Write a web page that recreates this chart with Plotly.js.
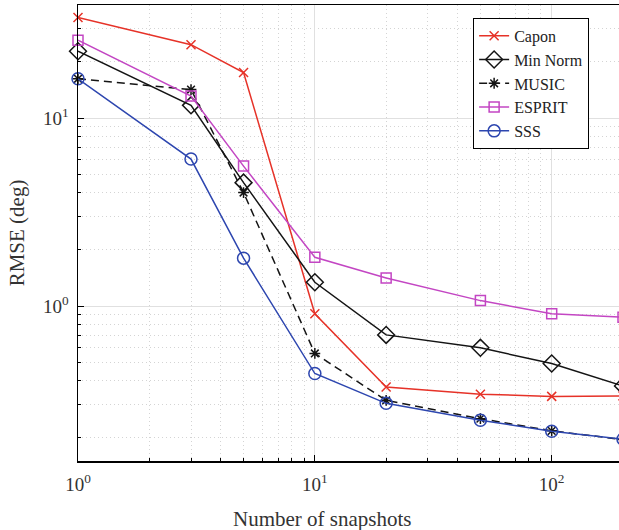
<!DOCTYPE html>
<html>
<head>
<meta charset="utf-8">
<script src="https://cdn.plot.ly/plotly-3.0.1.min.js"></script>
<style>
html, body { margin: 0; padding: 0; overflow: hidden; background: #fff; }
#chart { width: 626px; height: 530px; }
</style>
</head>
<body>
<div id="chart"></div>
<script>
const snapshots = [1, 3, 5, 10, 20, 50, 100, 200];
const capon   = [34.3, 24.6, 17.5, 0.91, 0.371, 0.340, 0.331, 0.333];
const minNorm = [22.7, 11.7, 4.54, 1.34, 0.703, 0.600, 0.495, 0.376];
const music   = [16.2, 14.2, 4.02, 0.560, 0.315, 0.252, 0.217, 0.195];
const esprit  = [26.0, 13.1, 5.56, 1.82, 1.41, 1.07, 0.912, 0.872];
const sss     = [16.2, 6.06, 1.80, 0.438, 0.304, 0.247, 0.216, 0.196];

const xTickVals = [1, 10, 100];
const xTickText = ['10<sup>0</sup>', '10<sup>1</sup>', '10<sup>2</sup>'];
const yTickVals = [1, 10];
const yTickText = ['10<sup>0</sup>', '10<sup>1</sup>'];

const font = 'Liberation Serif';

function tr(name, y, color, symbol, size, dash, lw) {
  return {
    x: snapshots, y: y, name: name, type: 'scatter', mode: 'lines+markers',
    line: {color: color, width: lw || 1.5, dash: dash || 'solid'},
    marker: {symbol: symbol, size: size, color: color, line: {color: color, width: 1.5}},
    cliponaxis: false
  };
}

const data = [
  tr('Capon', capon, 'rgb(230,50,40)', 'x-thin-open', 9),
  tr('Min Norm', minNorm, 'rgb(20,20,20)', 'diamond-open', 13),
  tr('MUSIC', music, 'rgb(20,20,20)', 'asterisk-open', 9, '8px,5px'),
  tr('ESPRIT', esprit, 'rgb(195,70,195)', 'square-open', 10),
  tr('SSS', sss, 'rgb(45,70,175)', 'circle-open', 12)
];

const axisCommon = {
  type: 'log',
  showline: true, linecolor: '#000', linewidth: 1.5, mirror: true,
  ticks: 'inside', ticklen: 6, tickcolor: '#000', tickwidth: 1,
  showgrid: true, gridcolor: '#e0e0e0', gridwidth: 1,
  zeroline: false,
  tickfont: {family: font, size: 19, color: '#333'},
  minor: {dtick: 'D1', ticks: 'inside', ticklen: 3, tickcolor: '#000', showgrid: true, gridcolor: '#d4d4d4', griddash: '1px,3px', gridwidth: 1}
};

const layout = {
  width: 626, height: 530,
  margin: {l: 78, r: 3, t: 5, b: 69},
  paper_bgcolor: '#fff', plot_bgcolor: '#fff',
  font: {family: font, color: '#333'},
  showlegend: true,
  legend: {
    x: 0.725, y: 0.972, xanchor: 'left', yanchor: 'top',
    bgcolor: '#fff', bordercolor: '#000', borderwidth: 1,
    font: {family: font, size: 16, color: '#222'},
    tracegroupgap: 0
  },
  xaxis: Object.assign({}, axisCommon, {
    range: [0, Math.log10(200)],
    tickmode: 'array', tickvals: xTickVals, ticktext: xTickText,
    ticklabelstandoff: 6
  }),
  yaxis: Object.assign({}, axisCommon, {
    range: [Math.log10(0.15), Math.log10(40)],
    tickmode: 'array', tickvals: yTickVals, ticktext: yTickText,
    ticklabelstandoff: 4,
    title: {text: 'RMSE (deg)', font: {family: font, size: 21, color: '#333'}, standoff: 12}
  }),
  annotations: [{
    text: 'Number of snapshots', xref: 'paper', yref: 'paper',
    x: 0.448, y: -0.096, xanchor: 'center', yanchor: 'top', showarrow: false,
    font: {family: font, size: 21, color: '#333'}
  }]
};

Plotly.newPlot('chart', data, layout, {displayModeBar: false, staticPlot: true});
</script>
</body>
</html>
